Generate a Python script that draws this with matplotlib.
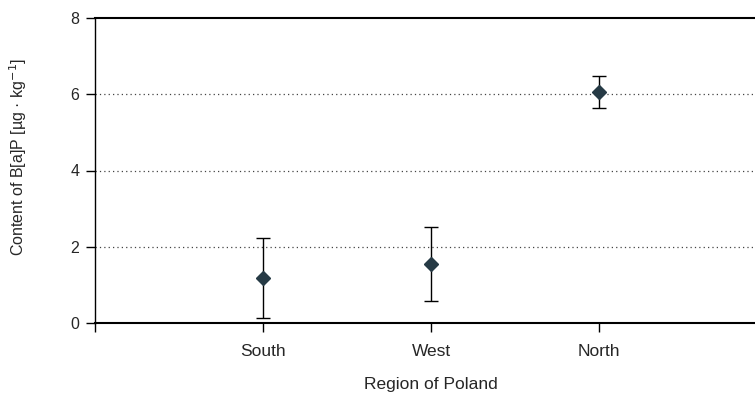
import matplotlib
matplotlib.use("Agg")
import matplotlib.pyplot as plt

regions = ["South", "West", "North"]
means = [1.18, 1.55, 6.07]
errors = [1.06, 0.96, 0.42]
y_ticks = [0, 2, 4, 6, 8]

plt.rcParams['font.family'] = ['Liberation Sans', 'DejaVu Sans']
text_color = '#262626'

W, H = 755, 398
fig = plt.figure(figsize=(W / 100, H / 100), dpi=100)
ax = fig.add_axes([95 / W, 1 - 323 / H, 1 - 95 / W, (323 - 18) / H])

x = list(range(1, len(regions) + 1))
ax.errorbar(x, means, yerr=errors, fmt='D', color='#263a45', markersize=7.2,
            ecolor='black', elinewidth=1, capsize=4.8, capthick=1, zorder=3)

ax.set_xlim(0, (W - 95) / 168)
ax.set_ylim(0, 8)
ax.set_xticks([0] + x)
ax.set_xticklabels([""] + regions, fontsize=12.5, color=text_color)
ax.set_yticks(y_ticks)
ax.set_yticklabels([str(v) for v in y_ticks], fontsize=11.5, color=text_color)
ax.tick_params(axis='both', direction='out', length=6.2, width=1, color='black')
ax.tick_params(axis='x', pad=9)
ax.tick_params(axis='y', pad=5)

for v in y_ticks[1:-1]:
    ax.axhline(v, color='#444444', linestyle=(0, (1, 2.5)), linewidth=0.9, zorder=1)

ax.spines['right'].set_visible(False)
ax.spines['top'].set_linewidth(1.5)
ax.spines['bottom'].set_linewidth(1.5)
ax.spines['left'].set_linewidth(1.0)

fig.text(431 / W, 1 - 385 / H, "Region of Poland", fontsize=12.5, color=text_color,
         ha='center', va='center')
fig.text(18 / W, 1 - 157 / H, "Content of B[a]P [µg · kg$^{-1}$]", fontsize=11.5,
         color=text_color, rotation=90, ha='center', va='center')

fig.savefig("out.png", dpi=100)
